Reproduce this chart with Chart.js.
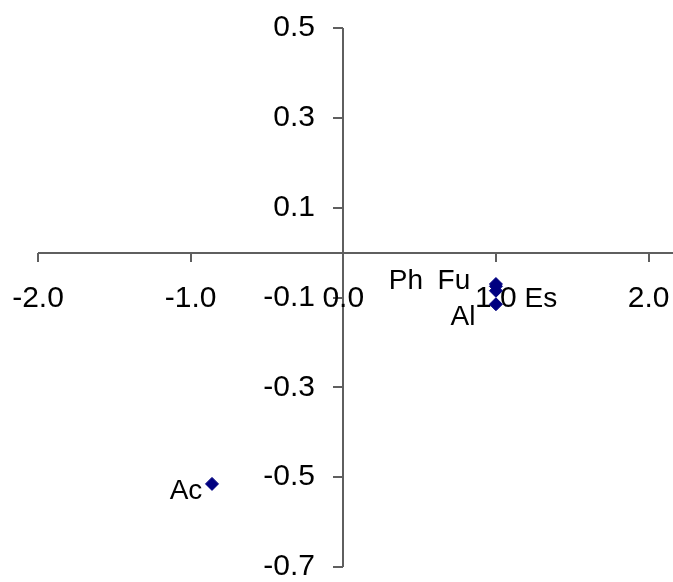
<!DOCTYPE html>
<html>
<head>
<meta charset="utf-8">
<script src="https://cdn.jsdelivr.net/npm/chart.js@4.4.0/dist/chart.umd.min.js"></script>
<style>
  body { margin: 0; background: #fff; }
  canvas { display: block; }
</style>
</head>
<body>
<canvas id="myChart" width="673" height="582"></canvas>
<script>
// values
let names = ["Ph", "Fu", "Es", "Al", "Ac"];
let xValues = [1.0, 1.0, 1.0, 1.0, -0.86];
let yValues = [-0.075, -0.07, -0.085, -0.115, -0.515];
let xTicks = [-2.0, -1.0, 0.0, 1.0, 2.0];
let yTicks = [0.5, 0.3, 0.1, -0.1, -0.3, -0.5, -0.7];

// where each name sits around its point, in px
let labelShift = {
  Ph: [-90, -5],
  Fu: [-42, -3],
  Es: [45, 9],
  Al: [-33, 13],
  Ac: [-26, 7]
};

let axisFont = "30px 'Liberation Sans', Arial, sans-serif";
let labelFont = "28px 'Liberation Sans', Arial, sans-serif";

let points = [];
for (let i = 0; i < names.length; i++) {
  points.push({ x: xValues[i], y: yValues[i] });
}

// axes crossing at the origin, drawn from the chart's own scales
let crossAxes = {
  id: "crossAxes",
  beforeDatasetsDraw(chart) {
    let ctx = chart.ctx;
    let sx = chart.scales.x;
    let sy = chart.scales.y;
    let x0 = Math.round(sx.getPixelForValue(0));
    let y0 = Math.round(sy.getPixelForValue(0));

    ctx.save();
    ctx.strokeStyle = "#5f5f5f";
    ctx.lineWidth = 2;
    ctx.beginPath();
    ctx.moveTo(Math.round(sx.getPixelForValue(xTicks[0])), y0);
    ctx.lineTo(sx.right, y0);
    ctx.moveTo(x0, Math.round(sy.getPixelForValue(yTicks[0])));
    ctx.lineTo(x0, Math.round(sy.getPixelForValue(yTicks[yTicks.length - 1])));
    xTicks.forEach(v => {
      let px = Math.round(sx.getPixelForValue(v));
      ctx.moveTo(px, y0);
      ctx.lineTo(px, y0 + 9);
    });
    yTicks.forEach(v => {
      let py = Math.round(sy.getPixelForValue(v));
      ctx.moveTo(x0 - 10, py);
      ctx.lineTo(x0, py);
    });
    ctx.stroke();

    ctx.fillStyle = "#000";
    ctx.font = axisFont;
    ctx.textBaseline = "middle";
    ctx.textAlign = "center";
    xTicks.forEach(v => {
      ctx.fillText(v.toFixed(1), sx.getPixelForValue(v), y0 + 46);
    });
    ctx.textAlign = "right";
    yTicks.forEach(v => {
      ctx.fillText(v.toFixed(1), x0 - 28, sy.getPixelForValue(v));
    });
    ctx.restore();
  },
  afterDatasetsDraw(chart) {
    let ctx = chart.ctx;
    let meta = chart.getDatasetMeta(0);
    ctx.save();
    ctx.fillStyle = "#000";
    ctx.font = labelFont;
    ctx.textAlign = "center";
    ctx.textBaseline = "middle";
    meta.data.forEach((pt, i) => {
      let s = labelShift[names[i]];
      ctx.fillText(names[i], pt.x + s[0], pt.y + s[1]);
    });
    ctx.restore();
  }
};

let ctx = document.getElementById("myChart").getContext("2d");
let myChart = new Chart(ctx, {
  type: "scatter",
  data: {
    datasets: [{
      label: "scores",
      data: points,
      pointStyle: "rectRot",
      pointRadius: 6.5,
      backgroundColor: "#000080",
      borderColor: "#000080",
      borderWidth: 1,
      clip: false
    }]
  },
  options: {
    responsive: false,
    animation: false,
    devicePixelRatio: 1,
    layout: {
      autoPadding: false,
      padding: { left: 38, right: 0, top: 28, bottom: 15 }
    },
    scales: {
      x: { type: "linear", min: -2, max: 2.16, display: false },
      y: { type: "linear", min: -0.7, max: 0.5, display: false }
    },
    plugins: {
      legend: { display: false },
      tooltip: { enabled: false }
    }
  },
  plugins: [crossAxes]
});
</script>
</body>
</html>
